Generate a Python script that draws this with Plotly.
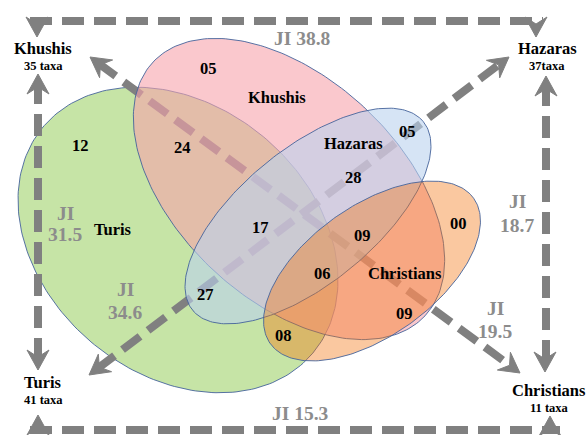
import numpy as np
import plotly.graph_objects as go

# ---------------- data ----------------
set_names = ["Khushis", "Hazaras", "Turis", "Christians"]
taxa_labels = ["35 taxa", "37taxa", "41 taxa", "11 taxa"]
# exclusive / overlap region counts
region_values = ["05", "12", "24", "05", "28", "17", "09", "00", "06", "27", "08", "09"]
# Jaccard index between pairs: K-H, K-T, T-H, H-C, K-C, T-C
ji_values = ["38.8", "31.5", "34.6", "18.7", "19.5", "15.3"]

# ---------------- layout geometry (pixel space) ----------------
W, H = 587, 435
FONT = "Liberation Serif"
GRAY = "#808080"
TXTGRAY = "#8C8C8C"

# name: (cx, cy, a, b, angle_deg, fill)
ellipse_geo = {
    "Turis": (178, 240, 176, 134, 40, "rgba(160,210,107,0.6)"),
    "Khushis": (289, 189, 186, 111, 43, "rgba(247,163,172,0.6)"),
    "Hazaras": (308, 216, 149, 67.5, -39.3, "rgba(187,210,238,0.6)"),
    "Christians": (372, 271, 125, 65, -35.6, "rgba(242,117,17,0.4)"),
}
set_label_pos = {"Khushis": (277, 97), "Hazaras": (353, 143), "Turis": (113, 229), "Christians": (405, 273)}
corner_pos = {"Khushis": (43, 48), "Hazaras": (547, 48), "Turis": (43, 382), "Christians": (549, 390)}
region_pos = [(208, 68), (80, 145), (182, 147), (407, 131), (353, 177), (260, 227),
              (362, 235), (458, 223), (322, 273), (205, 294), (283, 335), (404, 313)]
# (label lines positions): single-line or two-line
ji_pos = [
    [(302, 38, "JI {}")],
    [(65, 213, "JI"), (65, 234, "{}")],
    [(125, 289, "JI"), (125, 312, "{}")],
    [(517, 201, "JI"), (517, 225, "{}")],
    [(495, 308, "JI"), (495, 331, "{}")],
    [(300, 413, "JI {}")],
]
dash_lines = [((30, 21), (543, 21)), ((38, 82), (38, 362)), ((546, 84), (546, 364)),
              ((30, 430), (560, 430))]
diag_lines = [((98, 63), (512, 367)), ((97, 369), (501, 63))]
heads = [((37, 37), (0, 1)), ((536, 37), (0, 1)), ((38, 74), (0, -1)), ((38, 370), (0, 1)),
         ((546, 76), (0, -1)), ((545, 372), (0, 1)), ((38, 415), (0, -1)), ((550, 416), (0, -1)),
         ((90, 57), (-430, -316)), ((520, 373), (430, 316)), ((89, 375), (-420, 318)),
         ((509, 57), (420, -318))]


def ellipse_xy(cx, cy, a, b, ang, n=240):
    t = np.linspace(0, 2 * np.pi, n)
    th = np.deg2rad(ang)
    x = cx + a * np.cos(t) * np.cos(th) - b * np.sin(t) * np.sin(th)
    y = cy + a * np.cos(t) * np.sin(th) + b * np.sin(t) * np.cos(th)
    return x, y


def ellipse_trace(name):
    cx, cy, a, b, ang, fill = ellipse_geo[name]
    x, y = ellipse_xy(cx, cy, a, b, ang)
    return go.Scatter(x=x, y=y, mode="lines", fill="toself", fillcolor=fill,
                      line=dict(color="rgba(70,100,155,0.9)", width=1),
                      hoverinfo="skip", showlegend=False)


def line_trace(p0, p1):
    return go.Scatter(x=[p0[0], p1[0]], y=[p0[1], p1[1]], mode="lines",
                      line=dict(color=GRAY, width=8, dash="22px,10px"),
                      hoverinfo="skip", showlegend=False)


def head_trace(tip, d, L=20, Wd=11, N=7):
    d = np.array(d, float)
    d /= np.linalg.norm(d)
    n = np.array([-d[1], d[0]])
    t = np.array(tip, float)
    pts = [t, t - L * d + Wd * n, t - (L - N) * d, t - L * d - Wd * n, t]
    xs = [p[0] for p in pts]
    ys = [p[1] for p in pts]
    return go.Scatter(x=xs, y=ys, mode="lines", fill="toself", fillcolor=GRAY,
                      line=dict(color=GRAY, width=1), hoverinfo="skip", showlegend=False)


fig = go.Figure()
fig.add_trace(ellipse_trace("Turis"))
for p0, p1 in diag_lines:
    fig.add_trace(line_trace(p0, p1))
for nm in ["Khushis", "Hazaras", "Christians"]:
    fig.add_trace(ellipse_trace(nm))
for p0, p1 in dash_lines:
    fig.add_trace(line_trace(p0, p1))
for tip, d in heads:
    fig.add_trace(head_trace(tip, d))

ann = []


def txt(x, y, s, size, color="black"):
    ann.append(dict(x=x, y=y, xref="x", yref="y", text="<b>" + s + "</b>", showarrow=False,
                    xanchor="center", yanchor="middle",
                    font=dict(family=FONT, size=size, color=color)))


for nm in set_names:
    x, y = set_label_pos[nm]
    txt(x, y, nm, 16.5)
for nm, tl in zip(set_names, taxa_labels):
    x, y = corner_pos[nm]
    txt(x, y, nm, 16.5)
    txt(x, y + 18, tl, 12.5)
for v, (x, y) in zip(region_values, region_pos):
    txt(x, y, v, 16.5)
for v, parts in zip(ji_values, ji_pos):
    for x, y, fmt in parts:
        txt(x, y, fmt.format(v), 19.5, TXTGRAY)

fig.update_layout(
    width=W, height=H, margin=dict(l=0, r=0, t=0, b=0),
    paper_bgcolor="white", plot_bgcolor="white",
    xaxis=dict(range=[0, W], visible=False, fixedrange=True),
    yaxis=dict(range=[H, 0], visible=False, fixedrange=True),
    annotations=ann, showlegend=False,
)
fig.write_html("out.html")
